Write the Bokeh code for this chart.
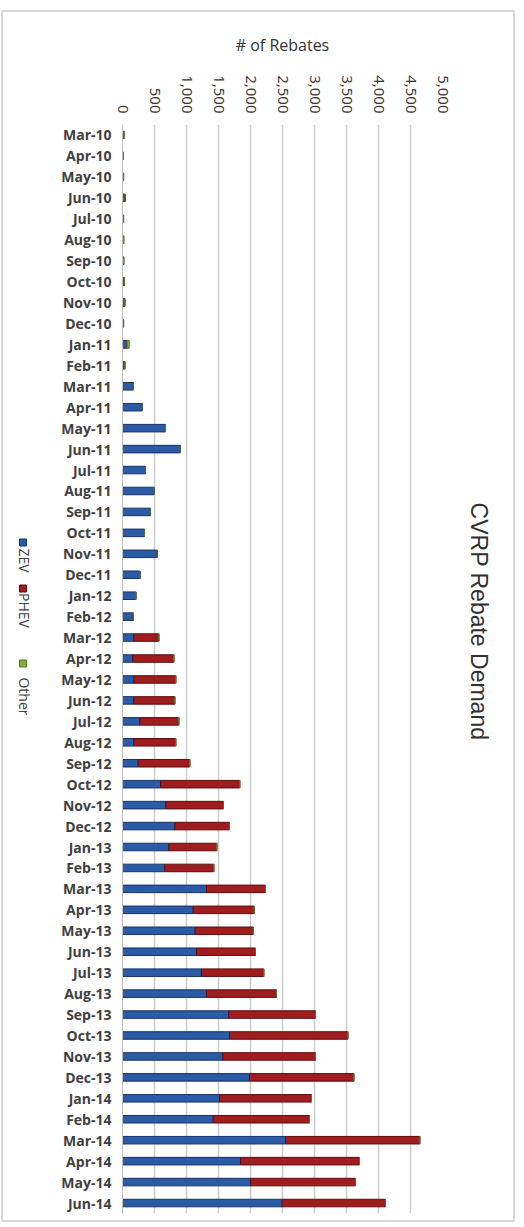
import math
from bokeh.plotting import figure
from bokeh.layouts import row
from bokeh.models import ColumnDataSource, FactorRange, Range1d, FixedTicker, NumeralTickFormatter
from bokeh.core.properties import value
from bokeh.embed import file_html
from bokeh.resources import INLINE

months = ["Mar-10", "Apr-10", "May-10", "Jun-10", "Jul-10", "Aug-10", "Sep-10", "Oct-10", "Nov-10", "Dec-10",
          "Jan-11", "Feb-11", "Mar-11", "Apr-11", "May-11", "Jun-11", "Jul-11", "Aug-11", "Sep-11", "Oct-11", "Nov-11", "Dec-11",
          "Jan-12", "Feb-12", "Mar-12", "Apr-12", "May-12", "Jun-12", "Jul-12", "Aug-12", "Sep-12", "Oct-12", "Nov-12", "Dec-12",
          "Jan-13", "Feb-13", "Mar-13", "Apr-13", "May-13", "Jun-13", "Jul-13", "Aug-13", "Sep-13", "Oct-13", "Nov-13", "Dec-13",
          "Jan-14", "Feb-14", "Mar-14", "Apr-14", "May-14", "Jun-14"]

zev = [20, 15, 5, 40, 5, 5, 5, 30, 35, 5,
       70, 35, 170, 310, 672, 906, 359, 490, 437, 344, 542, 271,
       208, 167, 177, 161, 177, 177, 271, 177, 245, 594, 677, 818,
       724, 661, 1312, 1104, 1135, 1156, 1234, 1312, 1661, 1672, 1568, 1984,
       1516, 1417, 2547, 1844, 2000, 2495]

phev = [0, 0, 0, 0, 0, 0, 0, 0, 0, 0,
        0, 0, 0, 0, 0, 0, 0, 0, 0, 0, 0, 0,
        0, 0, 391, 641, 656, 641, 609, 656, 807, 1239, 901, 854,
        750, 766, 922, 953, 907, 922, 974, 1094, 1355, 1849, 1448, 1631,
        1437, 1505, 2099, 1859, 1641, 1614]

other = [0, 0, 15, 0, 15, 20, 20, 0, 0, 15,
         35, 0, 0, 0, 0, 0, 0, 0, 0, 0, 0, 0,
         0, 0, 0, 0, 0, 0, 0, 0, 0, 0, 0, 0,
         0, 0, 0, 0, 0, 0, 0, 0, 0, 0, 0, 0,
         0, 0, 0, 0, 0, 0]

series = ["ZEV", "PHEV", "Other"]
fill_colors = ["#2c5ba6", "#a01d1f", "#86ad3c"]
line_colors = ["#14336b", "#5e0c0e", "#55722a"]
x_ticks = [0, 500, 1000, 1500, 2000, 2500, 3000, 3500, 4000, 4500, 5000]
title_text = "CVRP Rebate Demand"
x_title = "# of Rebates"

TXT = "#404040"
H = 1208
TOP, BOT = 112, 7          # main frame borders (canvas px)
FRAME_Y = (H - BOT, TOP)   # side strips share the aligned frame -> canvas px mapping

# ---------------- main chart ----------------
source = ColumnDataSource(data=dict(month=months, ZEV=zev, PHEV=phev, Other=other))

p = figure(width=406, height=H,
           y_range=FactorRange(factors=months[::-1]),
           x_range=Range1d(0, 5000),
           x_axis_location="above",
           output_backend="svg", toolbar_location=None,
           min_border_left=74, min_border_right=12,
           min_border_top=TOP, min_border_bottom=BOT)

p.hbar_stack(series, y="month", height=0.36, source=source,
             fill_color=fill_colors, line_color=line_colors, line_width=1)

p.outline_line_color = None
p.xgrid.grid_line_color = "#cccccc"
p.xgrid.grid_line_width = 1.6
p.ygrid.grid_line_color = None

xa = p.xaxis[0]
xa.ticker = FixedTicker(ticks=x_ticks)
xa.formatter = NumeralTickFormatter(format="0,0")
xa.major_label_orientation = -math.pi / 2
xa.major_label_text_font = "Open Sans"
xa.major_label_text_font_size = "15px"
xa.major_label_text_color = "#333333"
xa.major_label_standoff = 5
xa.major_tick_line_color = None
xa.minor_tick_line_color = None
xa.axis_line_color = None
xa.axis_label = x_title
xa.axis_label_text_font = "Open Sans"
xa.axis_label_text_font_size = "16px"
xa.axis_label_text_font_style = "normal"
xa.axis_label_text_color = "#333333"
xa.axis_label_standoff = 16

ya = p.yaxis[0]
ya.major_label_text_font = "Open Sans"
ya.major_label_text_font_size = "14px"
ya.major_label_text_font_style = "bold"
ya.major_label_text_color = TXT
ya.major_tick_line_color = None
ya.axis_line_color = "#bfbfbf"
ya.major_label_standoff = 5

# ---------------- rotated legend (left strip) ----------------
LW = 45
leg = figure(width=LW, height=H, x_range=Range1d(0, LW), y_range=Range1d(*FRAME_Y),
             x_axis_location=None, y_axis_location=None,
             output_backend="svg", toolbar_location=None, min_border=0)
leg.outline_line_color = None
leg.xgrid.visible = False
leg.ygrid.visible = False
leg_src = ColumnDataSource(data=dict(
    name=series, fill=fill_colors, line=line_colors,
    sq_x=[19.5, 19.5, 19.5], sq_y=[530, 576, 651],
    tx_x=[20.5, 20.5, 20.5], tx_y=[548, 598, 684]))
leg.scatter(x="sq_x", y="sq_y", marker="square", size=7, fill_color="fill", line_color="line", source=leg_src)
leg.text(x="tx_x", y="tx_y", text="name", angle=-math.pi / 2, text_align="center", text_baseline="middle",
         text_font=value("Open Sans"), text_font_size="14px", text_color=TXT, source=leg_src)

# ---------------- rotated title (right strip) ----------------
TW = 510 - LW - 406
tfig = figure(width=TW, height=H, x_range=Range1d(0, TW), y_range=Range1d(*FRAME_Y),
              x_axis_location=None, y_axis_location=None,
              output_backend="svg", toolbar_location=None, min_border=0)
tfig.outline_line_color = None
tfig.xgrid.visible = False
tfig.ygrid.visible = False
tfig.text(x=[24], y=[609], text=[title_text], angle=-math.pi / 2, text_align="center", text_baseline="middle",
          text_font=value("Liberation Sans"), text_font_size="23px", text_color="#303030")

layout = row(leg, p, tfig)
layout.styles = {"border": "2px solid #d9d9d9", "background-color": "white"}
layout.margin = (10, 0, 0, 1)

open("out.html", "w").write(file_html(layout, INLINE))
